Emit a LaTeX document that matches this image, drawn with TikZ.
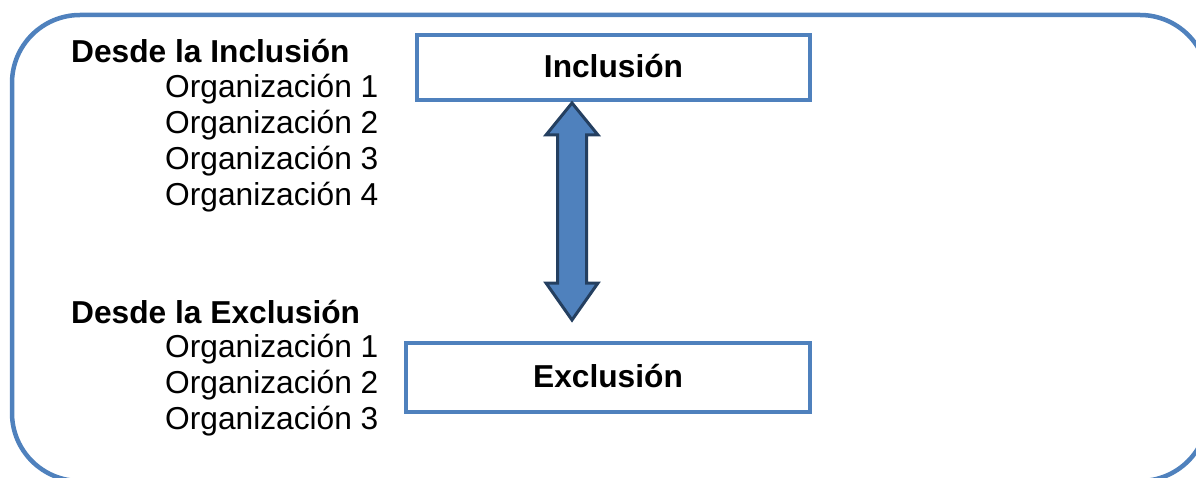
\documentclass[tikz,border=0pt]{standalone}
\usepackage{fontspec}
\setmainfont{Liberation Sans}
\definecolor{frameblue}{HTML}{4F81BD}
\definecolor{darkblue}{HTML}{243F60}
\begin{document}
\begin{tikzpicture}[x=1pt,y=-1pt,
  txt/.style={anchor=base west,inner sep=0pt,font=\fontsize{31.7}{36}\selectfont},
  head/.style={txt,font=\fontsize{31.7}{36}\selectfont\bfseries},
  box/.style={draw=frameblue,line width=4pt,fill=white,inner sep=0pt,
    text height=24pt,text depth=4pt,font=\fontsize{31.7}{36}\selectfont\bfseries},
  dblarrow/.style={fill=frameblue,draw=darkblue,line width=3pt,line join=miter}]
\useasboundingbox (0,0) rectangle (1196,478);
\clip (0,0) rectangle (1196,478);

% outer frame
\draw[frameblue,line width=4.5pt,rounded corners=68pt] (12,15) rectangle (1208,481);

% left-hand lists
\node[head] (hinc) at (71,63) {Desde la Inclusión};
\node[txt] (i1) at (165,98) {Organización 1};
\node[txt] (i2) at (165,134) {Organización 2};
\node[txt] (i3) at (165,170) {Organización 3};
\node[txt] (i4) at (165,206) {Organización 4};

\node[head] (hexc) at (71,323) {Desde la Exclusión};
\node[txt] (e1) at (165,357) {Organización 1};
\node[txt] (e2) at (165,393) {Organización 2};
\node[txt] (e3) at (165,429) {Organización 3};

% boxes
\node[box,minimum width=393pt,minimum height=65pt] (inc) at (613.5,67.5) {Inclusión};
\node[box,minimum width=404pt,minimum height=69pt] (exc) at (608,377.5) {Exclusión};

% two-headed block arrow between the boxes
\draw[dblarrow] (572,103) -- (598,135) -- (586.5,135) -- (586.5,283) -- (598,283)
  -- (572,320) -- (546,283) -- (557.5,283) -- (557.5,135) -- (546,135) -- cycle;
\end{tikzpicture}
\end{document}
